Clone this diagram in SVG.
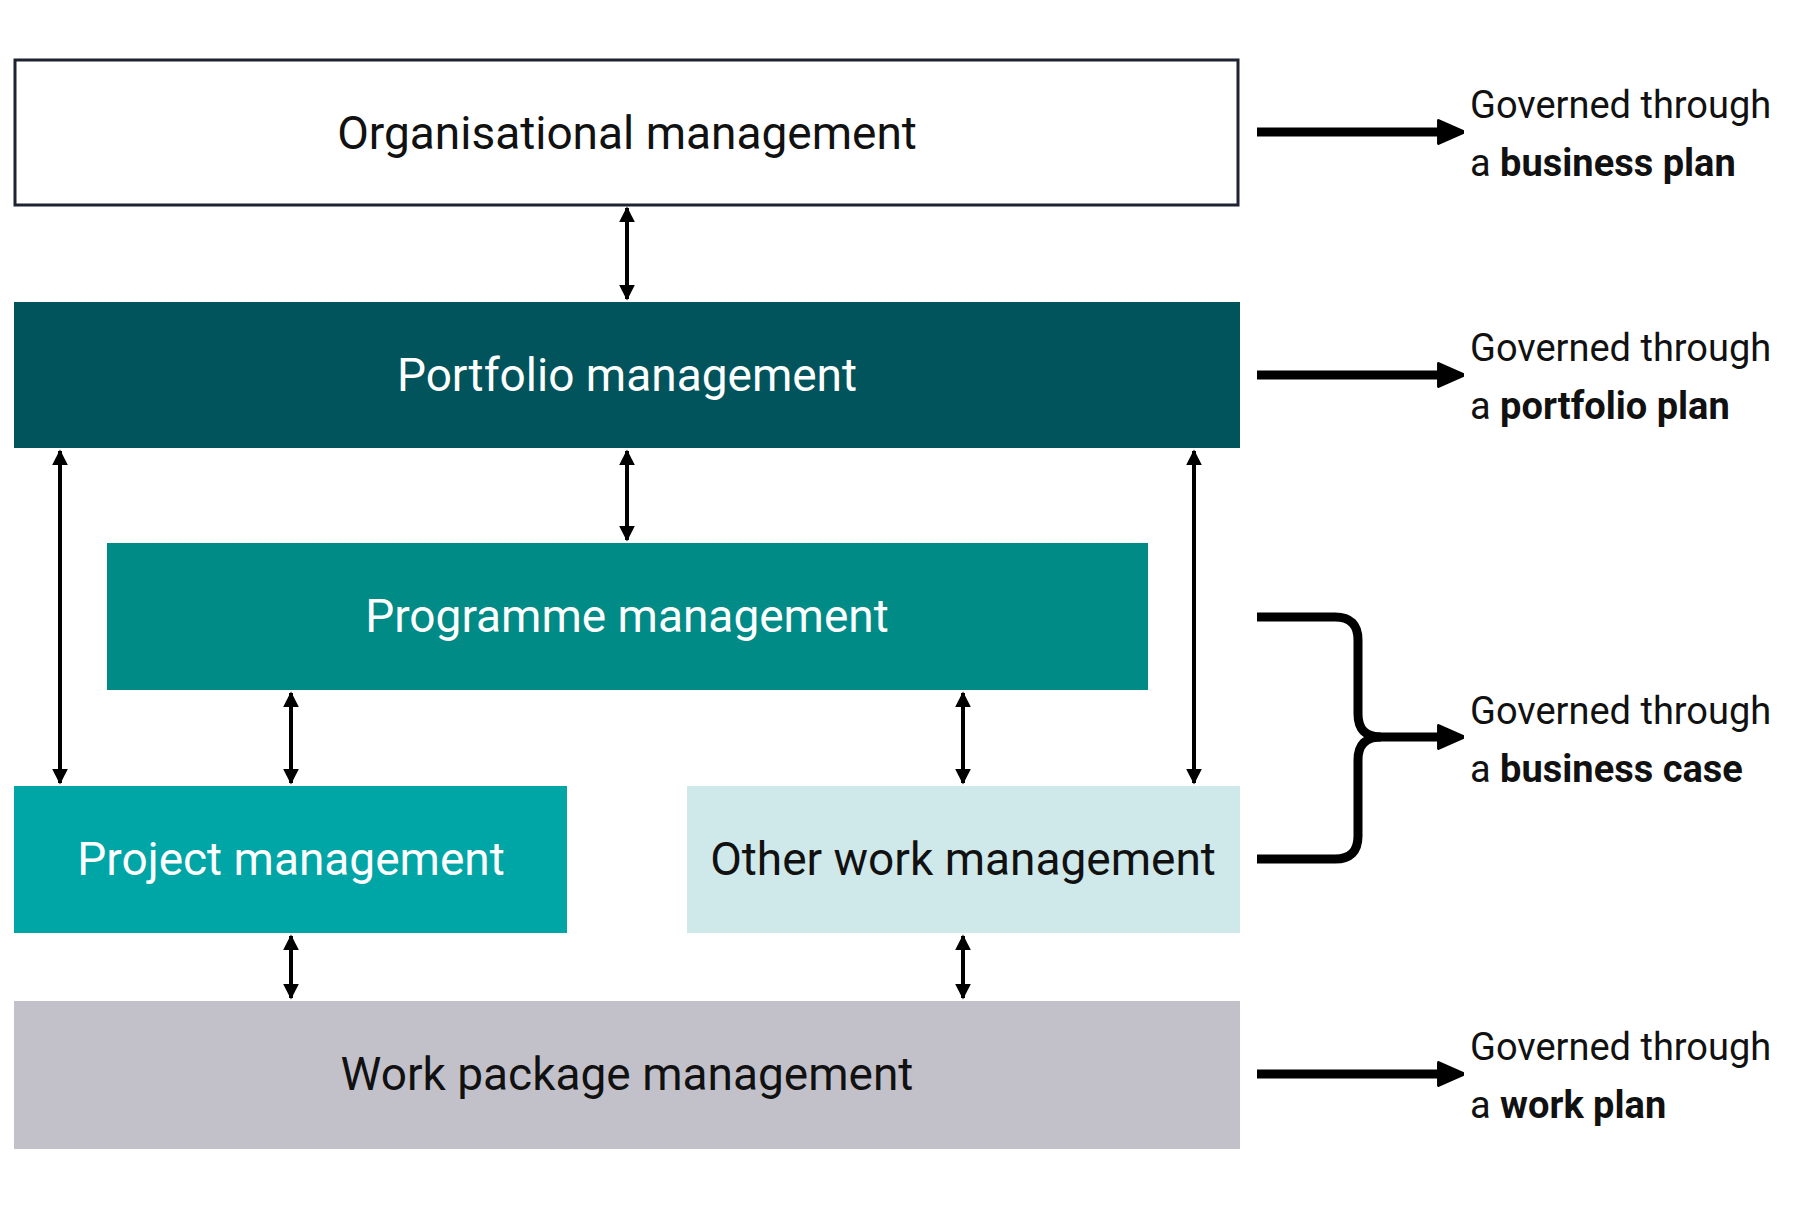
<svg xmlns="http://www.w3.org/2000/svg" width="1810" height="1207" viewBox="0 0 1810 1207">
<style>
.box{font-family:Roboto,"Liberation Sans",sans-serif;font-size:46px;text-anchor:middle}
.gov{font-family:Roboto,"Liberation Sans",sans-serif;font-size:38px;fill:#111}
.b{font-weight:bold}
.c{stroke:#000;stroke-width:4;fill:none;marker-start:url(#h);marker-end:url(#h)}
.t{stroke:#000;stroke-width:9;fill:none;marker-end:url(#big)}
</style>
<defs>
<marker id="h" viewBox="0 0 10 10" refX="9" refY="5" markerWidth="4" markerHeight="4" orient="auto-start-reverse"><path d="M0,0 L10,5 L0,10 z" fill="#000"/></marker>
<marker id="big" viewBox="0 0 10 10" refX="5" refY="5" markerWidth="3.2" markerHeight="4" orient="auto"><path d="M1,1 L10,5 L1,9 z" fill="#000" stroke="#000" stroke-linejoin="round"/></marker>
</defs>
<rect width="1810" height="1207" fill="#fff"/>
<g id="org"><rect x="15" y="60" width="1223" height="145" fill="#fff" stroke="#1f2233" stroke-width="3"/><text class="box" x="627" y="149" fill="#111">Organisational management</text></g>
<g id="portfolio"><rect x="14" y="302" width="1226" height="146" fill="#01545c"/><text class="box" x="627" y="391" fill="#fff">Portfolio management</text></g>
<g id="programme"><rect x="107" y="543" width="1041" height="147" fill="#008b87"/><text class="box" x="627" y="632" fill="#fff">Programme management</text></g>
<g id="project"><rect x="14" y="786" width="553" height="147" fill="#00a5a5"/><text class="box" x="291" y="875" fill="#fff">Project management</text></g>
<g id="other"><rect x="687" y="786" width="553" height="147" fill="#cfe8e9"/><text class="box" x="963" y="875" fill="#111">Other work management</text></g>
<g id="work"><rect x="14" y="1001" width="1226" height="148" fill="#c2c1ca"/><text class="box" x="627" y="1090" fill="#111">Work package management</text></g>
<g id="connectors">
<line class="c" x1="627" y1="208" x2="627" y2="299"/>
<line class="c" x1="627" y1="451" x2="627" y2="540"/>
<line class="c" x1="60" y1="451" x2="60" y2="783"/>
<line class="c" x1="1194" y1="451" x2="1194" y2="783"/>
<line class="c" x1="291" y1="693" x2="291" y2="783"/>
<line class="c" x1="963" y1="693" x2="963" y2="783"/>
<line class="c" x1="291" y1="936" x2="291" y2="998"/>
<line class="c" x1="963" y1="936" x2="963" y2="998"/>
<line class="t" x1="1257" y1="132" x2="1450" y2="132"/>
<line class="t" x1="1257" y1="375" x2="1450" y2="375"/>
<line class="t" x1="1257" y1="1074" x2="1450" y2="1074"/>
<path d="M1257,617 H1335 Q1358,617 1358,640 V714 Q1358,737 1381,737 M1257,859 H1335 Q1358,859 1358,836 V760 Q1358,737 1381,737" stroke="#000" stroke-width="9" fill="none"/>
<line class="t" x1="1375" y1="737" x2="1450" y2="737"/>
</g>
<g id="labels">
<text class="gov" x="1470" y="118">Governed through</text><text class="gov" x="1470" y="176">a <tspan class="b">business plan</tspan></text>
<text class="gov" x="1470" y="361">Governed through</text><text class="gov" x="1470" y="419">a <tspan class="b">portfolio plan</tspan></text>
<text class="gov" x="1470" y="724">Governed through</text><text class="gov" x="1470" y="782">a <tspan class="b">business case</tspan></text>
<text class="gov" x="1470" y="1060">Governed through</text><text class="gov" x="1470" y="1118">a <tspan class="b">work plan</tspan></text>
</g>
</svg>
